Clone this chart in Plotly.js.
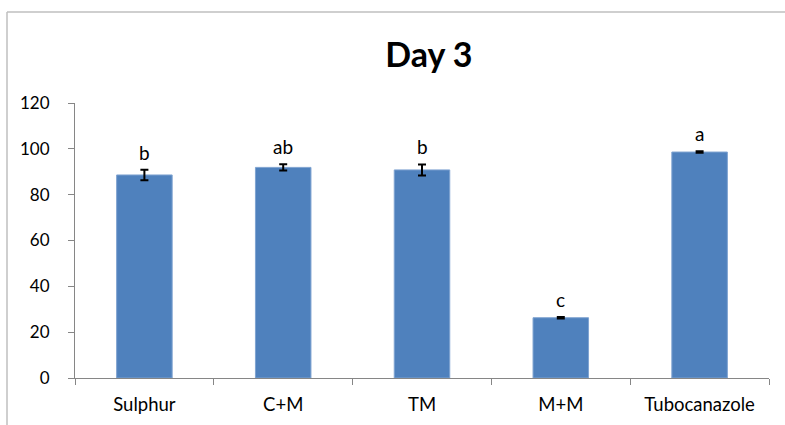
<!DOCTYPE html>
<html>
<head>
<meta charset="utf-8">
<script src="https://cdn.plot.ly/plotly-3.0.1.min.js"></script>
<style>
html,body{margin:0;padding:0;background:#fff;}
#chart{width:785px;height:425px;}
</style>
</head>
<body>
<div id="chart"></div>
<script>
const categories = ["Sulphur", "C+M", "TM", "M+M", "Tubocanazole"];
const values = [88.6, 91.9, 90.8, 26.3, 98.6];
const errors = [2.3, 1.4, 2.4, 0.3, 0.3];
const letters = ["b", "ab", "b", "c", "a"];
const yTicks = [0, 20, 40, 60, 80, 100, 120];

const FONT = "Lato, 'Open Sans', 'Liberation Sans', sans-serif";

const trace = {
  type: "bar",
  x: categories,
  y: values,
  width: 0.4,
  marker: {color: "#4f81bd", line: {color: "#7fa3d1", width: 1}},
  error_y: {type: "data", array: errors, visible: true, color: "#000000", thickness: 2, width: 4},
  hoverinfo: "none"
};

const annotations = categories.map((c, i) => ({
  x: c, y: values[i] + errors[i], xref: "x", yref: "y",
  text: letters[i], showarrow: false, yanchor: "bottom", yshift: 4,
  font: {family: FONT, size: 19, color: "#000"}
}));

const layout = {
  width: 785, height: 425,
  margin: {l: 75, r: 16, t: 103, b: 47},
  paper_bgcolor: "#ffffff", plot_bgcolor: "#ffffff",
  showlegend: false,
  title: {text: "<b>Day 3</b>", x: 0.51, xref: "paper", xanchor: "center", y: 1 - 55/425, yanchor: "middle",
          font: {family: FONT, size: 34, color: "#000"}},
  xaxis: {
    type: "category", tickson: "boundaries", ticks: "outside", ticklen: 6, tickcolor: "#868686", tickwidth: 1,
    showline: true, linecolor: "#868686", linewidth: 1, showgrid: false, zeroline: false,
    ticklabelstandoff: 10,
    tickfont: {family: FONT, size: 18.5, color: "#000"}, fixedrange: true
  },
  yaxis: {
    range: [0, 120], tickvals: yTicks, ticktext: yTicks.map(String), ticks: "outside", ticklen: 6,
    tickcolor: "#868686", tickwidth: 1, showline: true, linecolor: "#868686", linewidth: 1,
    showgrid: false, zeroline: false, ticklabelstandoff: 15,
    tickfont: {family: FONT, size: 17, color: "#000"}, fixedrange: true
  },
  annotations: annotations,
  shapes: [
    {type: "line", xref: "paper", yref: "paper", x0: (7-75)/694, x1: (800-75)/694, y0: (378-12)/275, y1: (378-12)/275,
     line: {color: "#bfbfbf", width: 1.5}},
    {type: "line", xref: "paper", yref: "paper", x0: (7-75)/694, x1: (7-75)/694, y0: (378-12)/275, y1: (378-440)/275,
     line: {color: "#bfbfbf", width: 1.5}}
  ]
};

Plotly.newPlot("chart", [trace], layout, {displayModeBar: false, staticPlot: true});
</script>
</body>
</html>
